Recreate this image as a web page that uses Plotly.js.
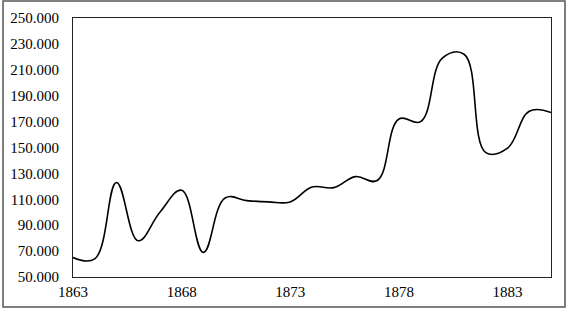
<!DOCTYPE html>
<html>
<head>
<meta charset="utf-8">
<script src="https://cdn.plot.ly/plotly-3.0.1.min.js"></script>
<style>
  html, body { margin: 0; padding: 0; background: #ffffff; }
  #chart { width: 576px; height: 315px; }
</style>
</head>
<body>
<div id="chart"></div>
<script>
const years = [1863, 1864, 1865, 1866, 1867, 1868, 1869, 1870, 1871, 1872, 1873, 1874,
               1875, 1876, 1877, 1878, 1879, 1880, 1881, 1882, 1883, 1884, 1885];
const values = [65000, 64000, 123000, 78000, 100000, 117000, 69000, 111000, 109000, 108000, 108000, 119500,
                119000, 127500, 124500, 172000, 170000, 219000, 222000, 146000, 149500, 178000, 177000];
const yTicks = [50000, 70000, 90000, 110000, 130000, 150000, 170000, 190000, 210000, 230000, 250000];
const xTicks = [1863, 1868, 1873, 1878, 1883];

const trace = {
  x: years,
  y: values,
  type: 'scatter',
  mode: 'lines',
  line: { color: '#000000', width: 1.6, shape: 'spline', smoothing: 1.15 },
  hoverinfo: 'skip'
};

const font = { family: '"Liberation Serif", "DejaVu Serif", serif', size: 15, color: '#000000' };

const layout = {
  width: 576,
  height: 315,
  margin: { l: 73, r: 25, t: 18, b: 38 },
  paper_bgcolor: '#ffffff',
  plot_bgcolor: '#ffffff',
  separators: ',.',
  showlegend: false,
  font: font,
  xaxis: {
    range: [1863, 1885],
    tickmode: 'array',
    tickvals: xTicks,
    ticktext: xTicks.map(String),
    showgrid: false,
    zeroline: false,
    showline: true,
    mirror: true,
    linecolor: '#222222',
    linewidth: 1,
    ticks: '',
    ticklabelstandoff: 1,
    tickfont: font
  },
  yaxis: {
    range: [50000, 250000],
    tickmode: 'array',
    tickvals: yTicks,
    ticktext: yTicks.map(v => (v / 1000).toFixed(0) + '.000'),
    showgrid: false,
    zeroline: false,
    showline: true,
    mirror: true,
    linecolor: '#222222',
    linewidth: 1,
    ticks: '',
    ticklabelstandoff: 10,
    tickfont: font
  },
  shapes: [{
    type: 'rect',
    xref: 'paper', yref: 'paper',
    x0: -0.1464, x1: 1.0293, y0: -0.1158, y1: 1.0656,
    line: { color: '#555555', width: 1.5 },
    fillcolor: 'rgba(0,0,0,0)',
    layer: 'below'
  }]
};

Plotly.newPlot('chart', [trace], layout, { staticPlot: true, displayModeBar: false });
</script>
</body>
</html>
